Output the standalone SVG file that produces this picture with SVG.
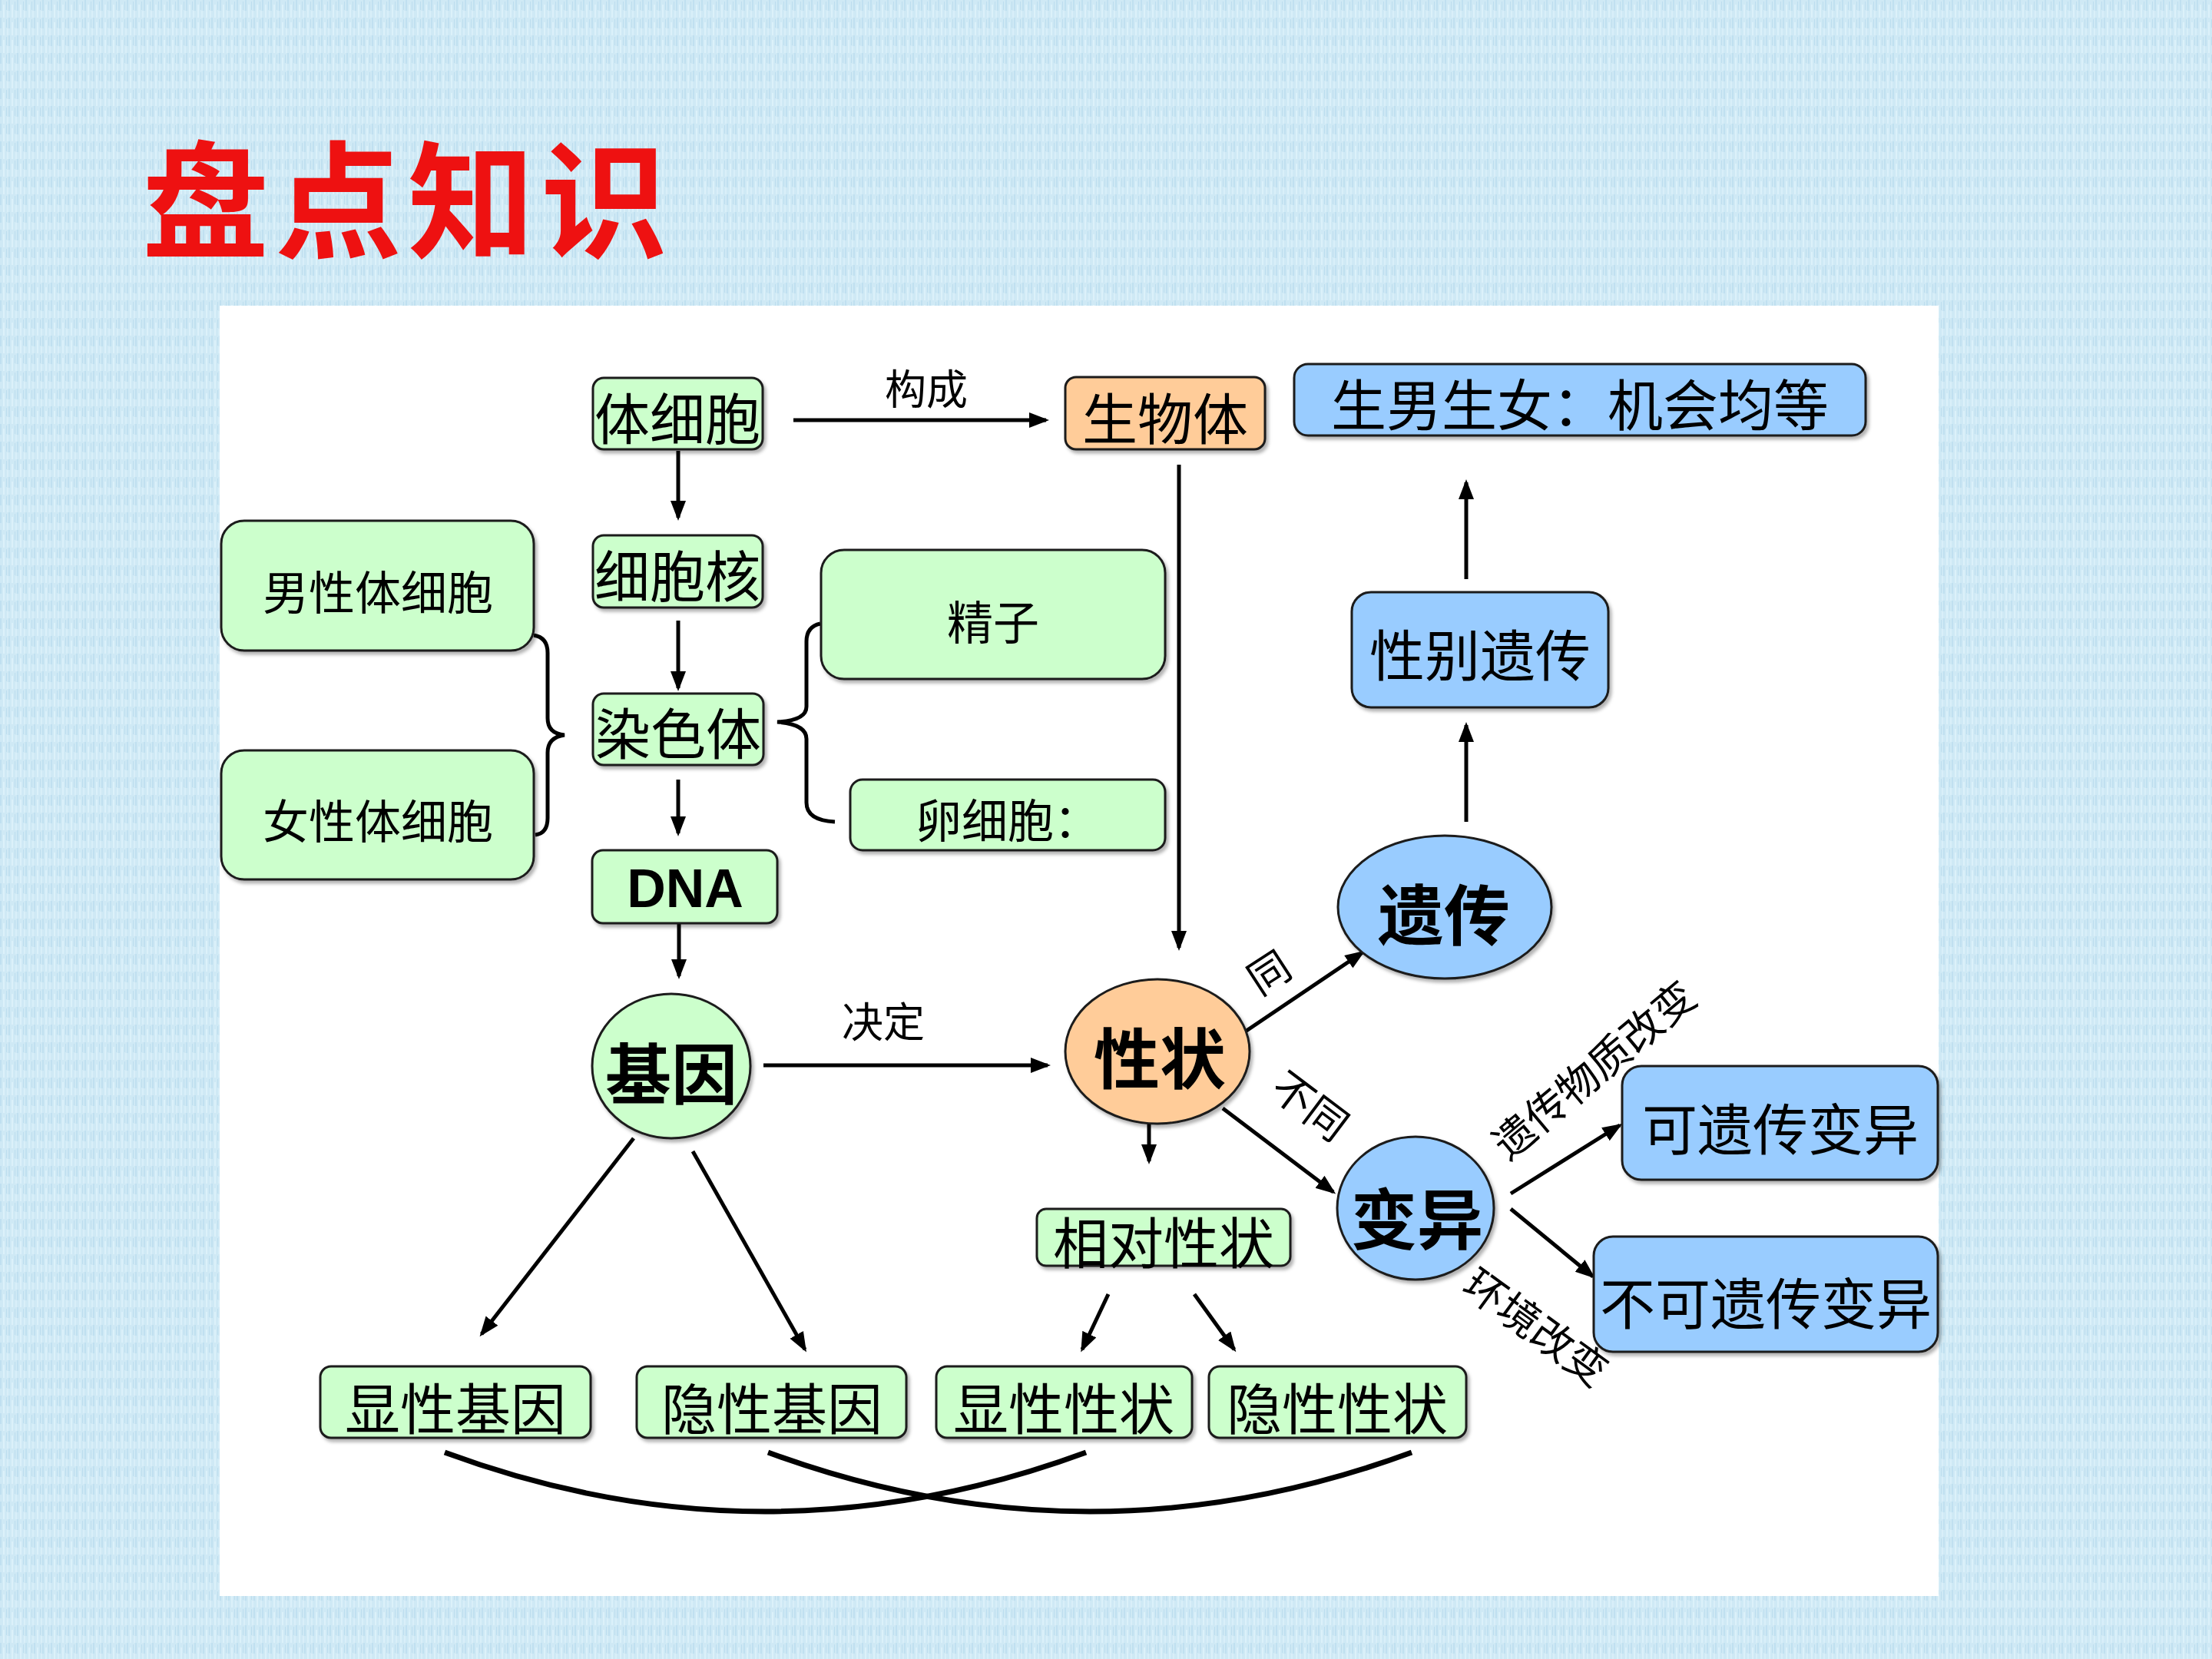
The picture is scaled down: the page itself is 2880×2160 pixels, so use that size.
<svg xmlns="http://www.w3.org/2000/svg" width="2880" height="2160" viewBox="0 0 2880 2160">
<defs>
<pattern id="tex" width="11" height="23" patternUnits="userSpaceOnUse">
<rect width="11" height="23" fill="#CFE9F5"/>
<rect x="0" y="0" width="2" height="14" fill="#C0E0F0"/>
<rect x="4" y="6" width="2" height="17" fill="#DCF1FA"/>
<rect x="8" y="2" width="1" height="11" fill="#BCDDEE"/>
<rect x="9" y="14" width="2" height="9" fill="#D9EFF9"/>
</pattern>
<filter id="sh" x="-10%" y="-10%" width="125%" height="130%">
<feDropShadow dx="3" dy="4" stdDeviation="2" flood-color="#000" flood-opacity="0.3"/>
</filter>
<marker id="ah" markerUnits="userSpaceOnUse" markerWidth="30" markerHeight="22" refX="22" refY="10" orient="auto">
<path d="M0,0 L26,10 L0,20 z" fill="#000"/>
</marker>
<style>
.g{fill:#CCFFCC;stroke:#1a1a1a;stroke-width:3;filter:url(#sh)}
.b{fill:#99CCFF;stroke:#1a1a1a;stroke-width:3;filter:url(#sh)}
.o{fill:#FFCC99;stroke:#1a1a1a;stroke-width:3;filter:url(#sh)}
.t{font-family:"Noto Sans CJK SC","Noto Sans",sans-serif;font-size:72px;text-anchor:middle;dominant-baseline:central;fill:#000}
.m{font-size:60px}
.k{font-size:86px;font-weight:bold}
.l{font-family:"Noto Sans CJK SC","Noto Sans",sans-serif;font-size:54px;text-anchor:middle;dominant-baseline:central;fill:#000}
.ln{stroke:#000;stroke-width:5;fill:none}
.ar{stroke:#000;stroke-width:5;fill:none;marker-end:url(#ah)}
</style>
</defs>
<rect width="2880" height="2160" fill="url(#tex)"/>
<rect x="286" y="398" width="2238" height="1680" fill="#FFFFFF"/>
<text x="185" y="323" font-family="'Noto Sans CJK SC',sans-serif" font-size="165" font-weight="bold" letter-spacing="8" fill="#EE1111">盘点知识</text>

<g id="connectors">
<line class="ar" x1="1033" y1="547" x2="1362" y2="547"/>
<line class="ar" x1="883" y1="587" x2="883" y2="674"/>
<line class="ar" x1="883" y1="808" x2="883" y2="896"/>
<line class="ar" x1="883" y1="1015" x2="883" y2="1085"/>
<line class="ar" x1="884" y1="1203" x2="884" y2="1271"/>
<line class="ar" x1="1535" y1="605" x2="1535" y2="1234"/>
<line class="ar" x1="994" y1="1387" x2="1364" y2="1387"/>
<line class="ar" x1="1496" y1="1462" x2="1496" y2="1512"/>
<line class="ar" x1="825" y1="1482" x2="627" y2="1737"/>
<line class="ar" x1="902" y1="1499" x2="1048" y2="1757"/>
<line class="ar" x1="1443" y1="1685" x2="1409" y2="1757"/>
<line class="ar" x1="1555" y1="1685" x2="1607" y2="1757"/>
<line class="ar" x1="1611" y1="1350" x2="1774" y2="1240"/>
<line class="ar" x1="1592" y1="1443" x2="1736" y2="1552"/>
<line class="ar" x1="1967" y1="1554" x2="2109" y2="1465"/>
<line class="ar" x1="1967" y1="1574" x2="2074" y2="1662"/>
<line class="ar" x1="1909" y1="1070" x2="1909" y2="944"/>
<line class="ar" x1="1909" y1="754" x2="1909" y2="628"/>
<path class="ln" d="M695,827 Q713,830 713,850 L713,935 Q713,955 735,957 Q713,960 713,980 L713,1065 Q713,1085 697,1087"/>
<path class="ln" d="M1068,812 Q1050,816 1050,835 L1050,920 Q1050,938 1012,940 Q1050,943 1050,962 L1050,1045 Q1050,1068 1087,1070"/>
<path class="ln" style="stroke-width:7" d="M579,1891 Q996,2045 1414,1891"/>
<path class="ln" style="stroke-width:7" d="M1000,1891 Q1419,2045 1838,1891"/>
<text class="l" x="1206" y="503">构成</text>
<text class="l" x="1150" y="1327">决定</text>
<text class="l" x="1650" y="1263" font-size="58" transform="rotate(-33 1650 1263)">同</text>
<text class="l" x="1708" y="1437" font-size="56" transform="rotate(37 1708 1437)">不同</text>
<text class="l" x="2073" y="1390" font-size="60" transform="rotate(-40 2073 1390)">遗传物质改变</text>
<text class="l" x="2002" y="1725" font-size="58" transform="rotate(36 2002 1725)">环境改变</text>
</g>

<g id="n-tixibao"><rect class="g" x="772" y="492" width="221" height="93" rx="14"/><text class="t" x="882" y="540">体细胞</text></g>
<g id="n-xibaohe"><rect class="g" x="772" y="697" width="221" height="94" rx="14"/><text class="t" x="882" y="745">细胞核</text></g>
<g id="n-ransetì"><rect class="g" x="772" y="903" width="222" height="93" rx="14"/><text class="t" x="883" y="950">染色体</text></g>
<g id="n-dna"><rect class="g" x="771" y="1107" width="241" height="95" rx="14"/><text x="892" y="1157" font-family="'Liberation Sans',Arial,sans-serif" font-weight="bold" font-size="70" text-anchor="middle" dominant-baseline="central">DNA</text></g>
<g id="n-nan"><rect class="g" x="288" y="678" width="407" height="169" rx="30"/><text class="t m" x="492" y="767">男性体细胞</text></g>
<g id="n-nv"><rect class="g" x="288" y="977" width="407" height="168" rx="30"/><text class="t m" x="492" y="1065">女性体细胞</text></g>
<g id="n-jingzi"><rect class="g" x="1069" y="716" width="448" height="168" rx="30"/><text class="t m" x="1293" y="806">精子</text></g>
<g id="n-luanxibao"><rect class="g" x="1107" y="1015" width="410" height="92" rx="16"/><text class="t m" x="1312" y="1064">卵细胞：</text></g>
<g id="n-shengwuti"><rect class="o" x="1387" y="491" width="260" height="94" rx="14"/><text class="t" x="1517" y="540">生物体</text></g>
<g id="n-shengnan"><rect class="b" x="1685" y="474" width="744" height="93" rx="18"/><text class="t" x="2057" y="522" font-size="74">生男生女：机会均等</text></g>
<g id="n-xingbie"><rect class="b" x="1760" y="771" width="334" height="150" rx="25"/><text class="t" x="1927" y="848">性别遗传</text></g>
<g id="n-yichuan"><ellipse class="b" cx="1881" cy="1181" rx="139" ry="93"/><text class="t k" x="1880" y="1186">遗传</text></g>
<g id="n-bianyi"><ellipse class="b" cx="1843" cy="1573" rx="102" ry="93"/><text class="t k" x="1845" y="1582">变异</text></g>
<g id="n-xingzhuang"><ellipse class="o" cx="1507" cy="1369" rx="120" ry="94"/><text class="t k" x="1510" y="1373">性状</text></g>
<g id="n-jiyin"><ellipse class="g" cx="874" cy="1388" rx="103" ry="94"/><text class="t k" x="874" y="1393">基因</text></g>
<g id="n-kebian"><rect class="b" x="2112" y="1388" width="411" height="148" rx="25"/><text class="t" x="2318" y="1465">可遗传变异</text></g>
<g id="n-bukebian"><rect class="b" x="2075" y="1610" width="448" height="150" rx="25"/><text class="t" x="2299" y="1692">不可遗传变异</text></g>
<g id="n-xiangdui"><rect class="g" x="1350" y="1574" width="330" height="74" rx="12"/><text class="t" x="1515" y="1613">相对性状</text></g>
<g id="n-xianjy"><rect class="g" x="417" y="1779" width="352" height="93" rx="14"/><text class="t" x="593" y="1829">显性基因</text></g>
<g id="n-yinjy"><rect class="g" x="829" y="1779" width="351" height="93" rx="14"/><text class="t" x="1005" y="1829">隐性基因</text></g>
<g id="n-xianxz"><rect class="g" x="1219" y="1779" width="333" height="93" rx="14"/><text class="t" x="1385" y="1829">显性性状</text></g>
<g id="n-yinxz"><rect class="g" x="1574" y="1779" width="335" height="93" rx="14"/><text class="t" x="1741" y="1829">隐性性状</text></g>
</svg>
